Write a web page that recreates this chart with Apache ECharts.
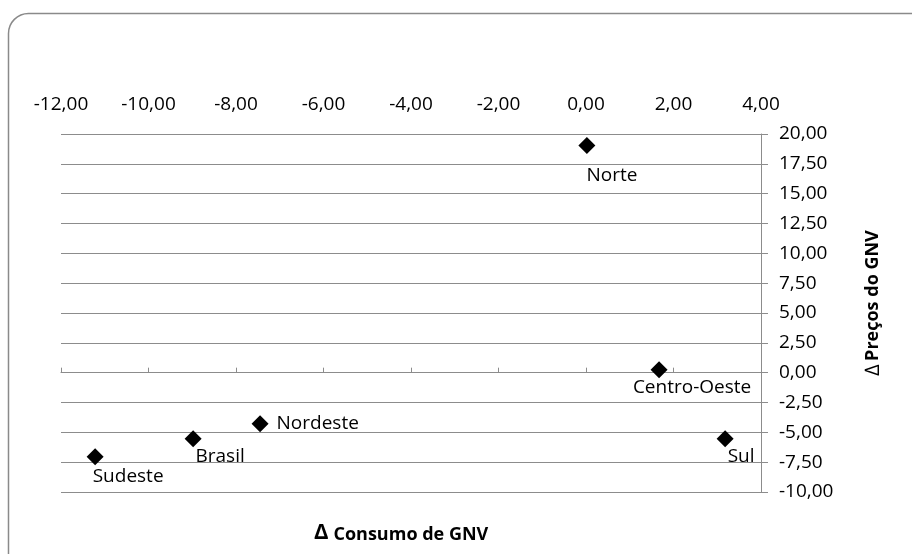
<!DOCTYPE html>
<html>
<head>
<meta charset="utf-8">
<script src="https://cdn.jsdelivr.net/npm/echarts@6/dist/echarts.min.js"></script>
<style>
  html, body { margin: 0; padding: 0; background: #fff; }
  #myChart { width: 912px; height: 554px; }
</style>
</head>
<body>
<div id="myChart"></div>
<script>
// dados: variação do consumo (x) e dos preços (y) do GNV por região
const regioes = ['Norte', 'Centro-Oeste', 'Sul', 'Nordeste', 'Brasil', 'Sudeste']
const consumo = [0.02, 1.67, 3.18, -7.45, -8.98, -11.22]
const precos = [19.04, 0.24, -5.54, -4.28, -5.54, -7.05]
const xTicks = [-12, -10, -8, -6, -4, -2, 0, 2, 4]
const yTicks = [-10, -7.5, -5, -2.5, 0, 2.5, 5, 7.5, 10, 12.5, 15, 17.5, 20]

// posição dos rótulos (estilo, não dado)
const labelStyle = {
  'Norte': { position: 'inside', offset: [25, 30] },
  'Centro-Oeste': { position: 'inside', offset: [33, 18] },
  'Sul': { position: 'inside', offset: [16, 18] },
  'Nordeste': { position: 'right', distance: 8 },
  'Brasil': { position: 'inside', offset: [27, 18] },
  'Sudeste': { position: 'inside', offset: [33, 20] }
}

const fmt = v => Number(v).toFixed(2).replace('.', ',')
const font = '"Open Sans", sans-serif'
const gray = '#8c8c8c'

const myChart = echarts.init(document.getElementById('myChart'))

const option = {
  animation: false,
  backgroundColor: '#fff',
  graphic: [
    {
      type: 'rect',
      shape: { x: 8.5, y: 13.5, width: 930, height: 570, r: 20 },
      style: { fill: 'none', stroke: '#8a8a8a', lineWidth: 1.5 },
      silent: true
    }
  ],
  title: {
    text: '{d|Δ} {b|Consumo de GNV}',
    left: 309,
    top: 517,
    textStyle: {
      rich: {
        d: { fontFamily: font, fontSize: 22, fontWeight: 'bold', color: '#000' },
        b: { fontFamily: font, fontSize: 18, fontWeight: 'bold', color: '#000', padding: [3, 0, 0, 0] }
      }
    }
  },
  grid: {
    left: 61,
    top: 134,
    width: 700,
    height: 358
  },
  xAxis: [
    {
      // só os rótulos, no topo
      type: 'value',
      position: 'top',
      min: xTicks[0],
      max: xTicks[xTicks.length - 1],
      interval: 2,
      axisLine: { show: false, onZero: false },
      axisTick: { show: false },
      splitLine: { show: false },
      axisLabel: {
        margin: 20,
        fontFamily: font,
        fontSize: 19,
        color: '#000',
        formatter: fmt
      }
    },
    {
      // linha do eixo em y = 0
      type: 'value',
      position: 'bottom',
      min: xTicks[0],
      max: xTicks[xTicks.length - 1],
      interval: 2,
      axisLine: { show: true, onZero: true, lineStyle: { color: gray, width: 1 } },
      axisTick: { show: true, inside: true, length: 5, lineStyle: { color: gray } },
      splitLine: { show: false },
      axisLabel: { show: false }
    }
  ],
  yAxis: {
    type: 'value',
    position: 'right',
    min: yTicks[0],
    max: yTicks[yTicks.length - 1],
    interval: 2.5,
    name: '{d|∆} {b|Preços do GNV}',
    nameLocation: 'middle',
    nameRotate: 90,
    nameGap: 102,
    nameTextStyle: {
      padding: [0, 0, 0, 20],
      rich: {
        d: { fontFamily: font, fontSize: 20, color: '#000' },
        b: { fontFamily: font, fontSize: 18, fontWeight: 'bold', color: '#000' }
      }
    },
    axisLine: { show: true, onZero: false, lineStyle: { color: gray, width: 1 } },
    axisTick: { show: true, length: 7, lineStyle: { color: gray } },
    splitLine: { show: true, lineStyle: { color: gray, width: 1 } },
    axisLabel: {
      margin: 18,
      fontFamily: font,
      fontSize: 19,
      color: '#000',
      formatter: fmt
    }
  },
  series: [
    {
      type: 'scatter',
      xAxisIndex: 1,
      symbol: 'diamond',
      symbolSize: [17, 17],
      itemStyle: { color: '#000', opacity: 1 },
      label: {
        show: true,
        fontFamily: font,
        fontSize: 19,
        color: '#000',
        formatter: p => p.name
      },
      data: regioes.map((r, i) => ({
        name: r,
        value: [consumo[i], precos[i]],
        label: labelStyle[r]
      }))
    }
  ]
}

myChart.setOption(option)
window.addEventListener('resize', function() {
  myChart.resize()
})
</script>
</body>
</html>
